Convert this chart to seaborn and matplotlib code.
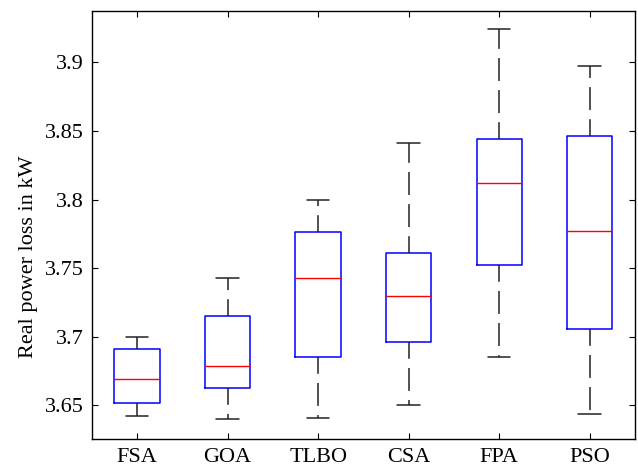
"""
Box plot of real power loss for six optimisation algorithms
(MATLAB-style look: blue boxes, red medians, dashed black whiskers)
"""

import numpy as np
import pandas as pd
import matplotlib
matplotlib.use("Agg")
import matplotlib.pyplot as plt
import seaborn as sns

# Five-number summaries
algorithms = ["FSA", "GOA", "TLBO", "CSA", "FPA", "PSO"]
loss_min = [3.642, 3.640, 3.641, 3.650, 3.685, 3.644]
loss_q1 = [3.652, 3.663, 3.685, 3.696, 3.752, 3.706]
loss_median = [3.669, 3.679, 3.743, 3.730, 3.812, 3.777]
loss_q3 = [3.691, 3.715, 3.776, 3.761, 3.844, 3.846]
loss_max = [3.700, 3.743, 3.800, 3.841, 3.924, 3.897]

y_ticks = [3.65, 3.70, 3.75, 3.80, 3.85, 3.90]
y_tick_labels = ["3.65", "3.7", "3.75", "3.8", "3.85", "3.9"]

# Long-form table: one row per summary value
rows = []
for i, name in enumerate(algorithms):
    for v in (loss_min[i], loss_q1[i], loss_median[i], loss_q3[i], loss_max[i]):
        rows.append({"algorithm": name, "loss": v})
df = pd.DataFrame(rows)

sns.set_style("white")
plt.rcParams["font.family"] = ["Liberation Serif", "DejaVu Serif"]
plt.rcParams["text.color"] = "black"
plt.rcParams["axes.labelcolor"] = "black"
plt.rcParams["xtick.color"] = "black"
plt.rcParams["ytick.color"] = "black"

fig = plt.figure(figsize=(6.38, 4.70), dpi=100)
ax = fig.add_axes([0.1437, 0.0666, 0.8516, 0.91])

sns.boxplot(
    data=df, x="algorithm", y="loss", order=algorithms,
    fill=False, width=0.5, whis=(0, 100), linewidth=1.0,
    linecolor="black", showfliers=False, ax=ax,
    boxprops=dict(color="blue", linewidth=1.1),
    medianprops=dict(color="red", linewidth=1.0),
    whiskerprops=dict(color="#222222", linewidth=1.1, linestyle=(4, (15, 6))),
    capprops=dict(color="#222222", linewidth=1.1),
)

ax.set_xlim(-0.5, 5.5)
ax.set_ylim(3.6257, 3.9374)
ax.set_yticks(y_ticks)
ax.set_yticklabels(y_tick_labels)
ax.set_xlabel("")
ax.set_ylabel("Real power loss in kW", fontsize=16)
ax.yaxis.set_label_coords(-0.099, 0.425)

for side in ["top", "right", "bottom", "left"]:
    ax.spines[side].set_visible(True)
    ax.spines[side].set_color("black")
    ax.spines[side].set_linewidth(1.0)

ax.tick_params(axis="both", which="major", direction="in", length=4,
               width=0.8, color="black", labelcolor="black", labelsize=16,
               top=True, right=True, bottom=True, left=True)
ax.tick_params(axis="y", pad=5.5)
ax.tick_params(axis="x", pad=7)

fig.savefig("out.png", dpi=100)
plt.close(fig)
